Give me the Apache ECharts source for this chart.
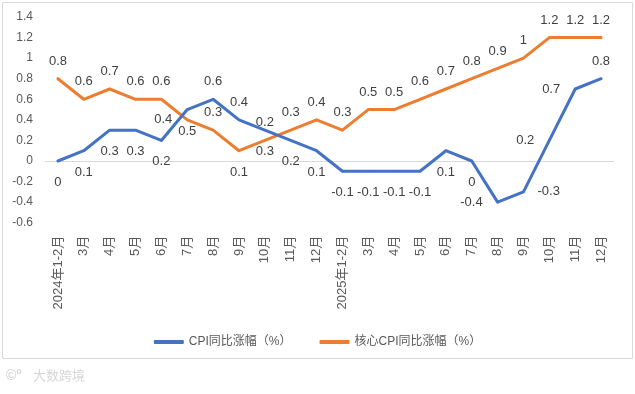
<!DOCTYPE html>
<html>
<head>
<meta charset="utf-8">
<script src="https://cdn.jsdelivr.net/npm/echarts@6/dist/echarts.min.js"></script>
<style>html,body{margin:0;padding:0;background:#fff}#c{width:635px;height:394px}</style>
</head>
<body>
<div id="c"></div>
<script>
const categories = ['2024年1-2月','3月','4月','5月','6月','7月','8月','9月','10月','11月','12月',
  '2025年1-2月','3月','4月','5月','6月','7月','8月','9月','10月','11月','12月'];
const cpiValues = [0, 0.1, 0.3, 0.3, 0.2, 0.5, 0.6, 0.4, 0.3, 0.2, 0.1,
  -0.1, -0.1, -0.1, -0.1, 0.1, 0, -0.4, -0.3, 0.2, 0.7, 0.8];
const coreValues = [0.8, 0.6, 0.7, 0.6, 0.6, 0.4, 0.3, 0.1, 0.2, 0.3, 0.4,
  0.3, 0.5, 0.5, 0.6, 0.7, 0.8, 0.9, 1.0, 1.2, 1.2, 1.2];
const seriesNames = ['CPI同比涨幅（%）', '核心CPI同比涨幅（%）'];
const yTicks = { min: -0.6, max: 1.4, interval: 0.2 };

// label placement (style only)
const cpiLabelPos = ['bottom','bottom','bottom','bottom','bottom','bottom','top','top','bottom','bottom','bottom',
  'bottom','bottom','bottom','bottom','bottom','bottom','left','right','left','left','top'];
const coreLabelPos = ['top','top','top','top','top','left','top','bottom','top','top','top',
  'top','top','top','top','top','top','top','top','top','top','top'];
const dist = { top: 10, bottom: 14, left: 14, right: 13 };

const FONT = '"Liberation Sans", "Noto Sans CJK SC", sans-serif';

function buildData(vals, pos) {
  return vals.map((v, i) => ({
    value: v,
    label: { position: pos[i], distance: dist[pos[i]] }
  }));
}

const chart = echarts.init(document.getElementById('c'), null, { renderer: 'canvas' });
chart.setOption({
  animation: false,
  backgroundColor: '#fff',
  graphic: [
    { type: 'rect', shape: { x: 2.5, y: 2.5, width: 630, height: 356 },
      style: { fill: 'none', stroke: '#d9d9d9', lineWidth: 1 }, z: -10 },
    { type: 'text', left: 6, top: 369,
      style: { text: '©°', fill: '#d6d6d6', font: 'bold 14px "Liberation Sans", sans-serif' } },
    { type: 'text', left: 33, top: 369,
      style: { text: '大数跨境', fill: '#d6d6d6', font: '13px "Noto Sans CJK SC", sans-serif' } }
  ],
  grid: { left: 45, right: 21, top: 17, bottom: 171.3, containLabel: false },
  legend: {
    data: seriesNames,
    top: 331,
    left: 'center',
    itemWidth: 30,
    itemHeight: 4,
    itemGap: 28,
    icon: 'roundRect',
    textStyle: { color: '#595959', fontSize: 12, fontFamily: FONT }
  },
  xAxis: {
    type: 'category',
    data: categories,
    boundaryGap: true,
    axisLine: { show: false },
    axisTick: { show: false },
    axisLabel: { rotate: 90, margin: 13, color: '#595959', fontSize: 13, fontFamily: FONT, interval: 0 }
  },
  yAxis: {
    type: 'value',
    min: yTicks.min, max: yTicks.max, interval: yTicks.interval,
    axisLine: { show: false },
    axisTick: { show: false },
    splitLine: { show: false },
    axisLabel: {
      margin: 12, color: '#595959', fontSize: 12, fontFamily: FONT,
      formatter: v => String(+v.toFixed(1))
    }
  },
  series: [
    {
      name: seriesNames[0],
      type: 'line',
      data: buildData(cpiValues, cpiLabelPos),
      symbol: 'circle', symbolSize: 2,
      itemStyle: { color: '#4472C4' },
      lineStyle: { color: '#4472C4', width: 3, join: 'round', cap: 'round' },
      label: { show: true, color: '#404040', fontSize: 13, fontFamily: FONT },
      z: 3,
      markLine: {
        silent: true, symbol: 'none', label: { show: false },
        lineStyle: { color: '#d9d9d9', width: 1, type: 'solid' },
        data: [{ yAxis: 0 }],
        z: 1
      }
    },
    {
      name: seriesNames[1],
      type: 'line',
      data: buildData(coreValues, coreLabelPos),
      symbol: 'circle', symbolSize: 2,
      itemStyle: { color: '#ED7D31' },
      lineStyle: { color: '#ED7D31', width: 3, join: 'round', cap: 'round' },
      label: { show: true, color: '#404040', fontSize: 13, fontFamily: FONT },
      z: 2
    }
  ]
});
</script>
</body>
</html>
